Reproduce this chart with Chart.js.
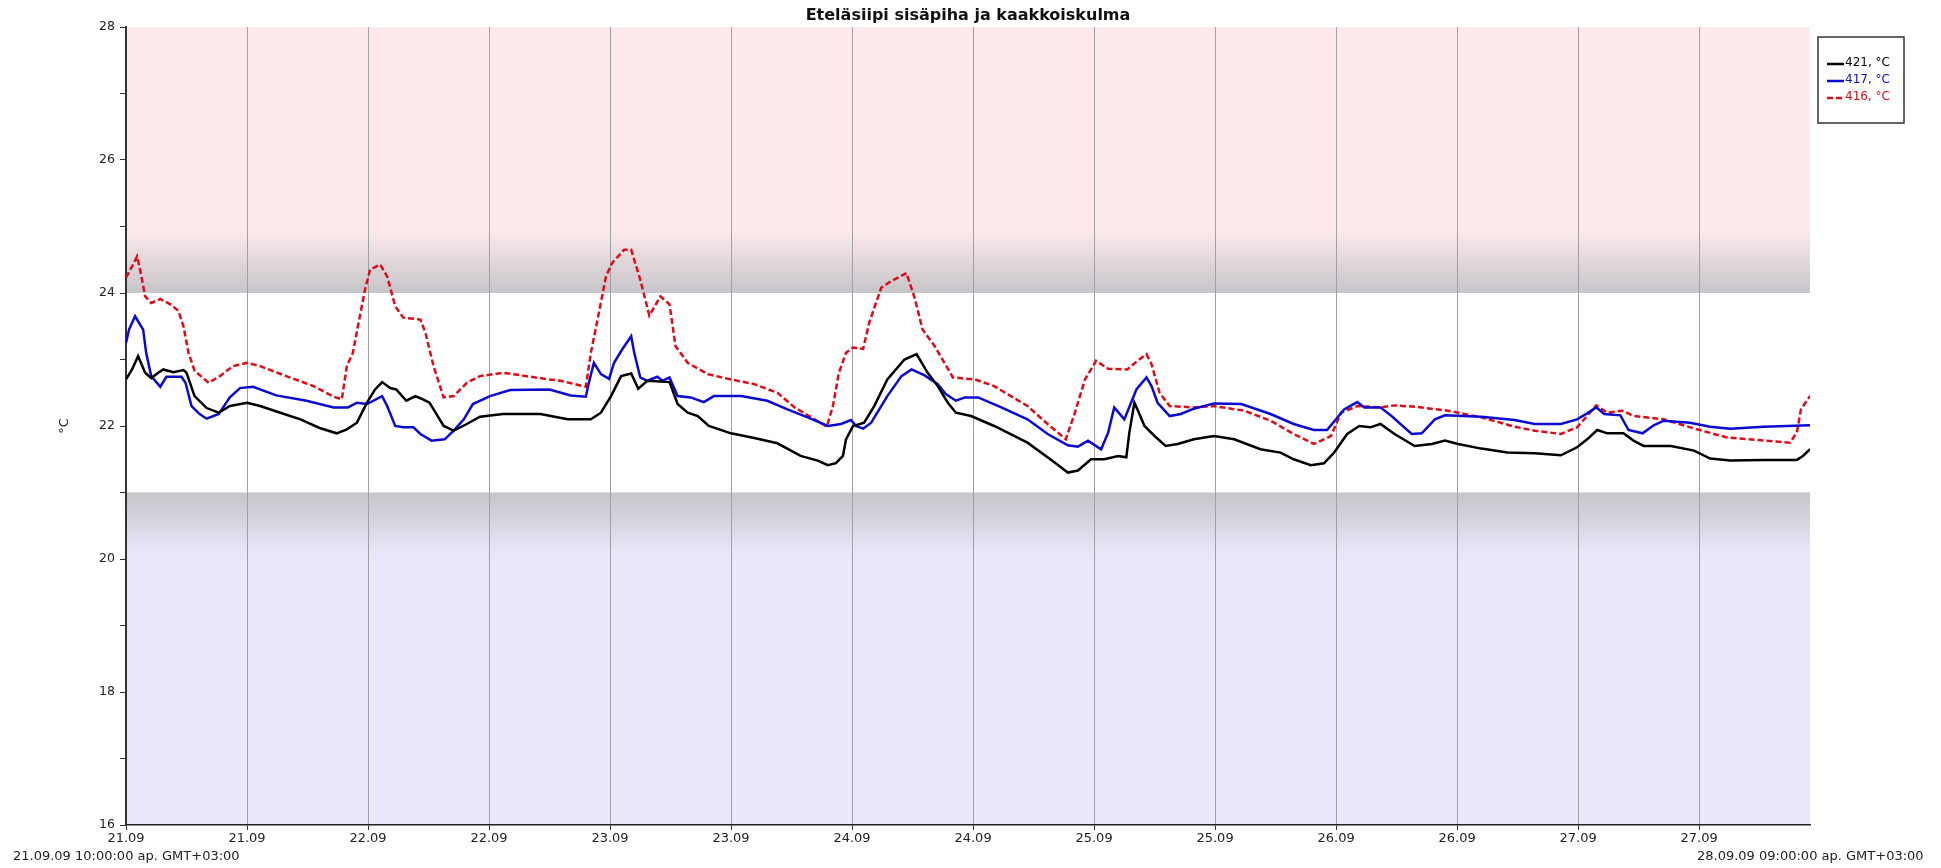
<!DOCTYPE html>
<html>
<head>
<meta charset="utf-8">
<script src="https://cdn.jsdelivr.net/npm/chart.js@4.4.1/dist/chart.umd.min.js"></script>
<style>
    html, body { margin: 0; padding: 0; background: #fff; }
    canvas { display: block; }
</style>
</head>
<body>
<canvas id="tempChart" width="1941" height="868"></canvas>
<script>
const chartTitle = 'Eteläsiipi sisäpiha ja kaakkoiskulma';
const startLabel = '21.09.09 10:00:00 ap. GMT+03:00';
const endLabel = '28.09.09 09:00:00 ap. GMT+03:00';
const yTitle = '°C';

// hours from 21.09 10:00
const xTickHours = [0, 12, 24, 36, 48, 60, 72, 84, 96, 108, 120, 132, 144, 156];
const xTickLabels = ['21.09', '21.09', '22.09', '22.09', '23.09', '23.09', '24.09', '24.09',
    '25.09', '25.09', '26.09', '26.09', '27.09', '27.09'];
const comfortRange = [21, 24];

const hours421 = [0, 0.6, 1.2, 1.9, 2.5, 3.2, 3.7, 4.7, 5.7, 6.0, 6.8, 8, 9.2, 10.3, 12, 13.3, 15.3, 17.3, 19.2, 20.9,
    21.9, 22.9, 23.9, 24.7, 25.4, 26.2, 26.8, 27.8, 28.7, 29.3, 30.1, 31.5, 32.5, 33.8, 35.1, 37.4, 41.1, 43.8, 46.1, 47.1,
    48.1, 49.1, 50.1, 50.8, 51.7, 53.9, 54.7, 55.7, 56.7, 57.8, 60, 62.3, 64.6, 66.9, 68.6, 69.6, 70.4, 71.1, 71.4, 72.1,
    73.2, 74.2, 75.5, 77.2, 78.4, 79.5, 80.5, 81.5, 82.3, 83.8, 86.1, 89.4, 92.1, 93.4, 94.4, 95.7, 97, 98.4, 99.2, 99.5,
    100, 100.3, 101, 102, 103.1, 104.3, 105.9, 107.9, 109.9, 112.5, 114.5, 115.8, 117.5, 118.8, 119.8, 121.1, 122.3, 123.4, 124.4, 125.8,
    127.8, 129.5, 130.8, 132.1, 134.4, 137, 139.7, 142.3, 143.9, 144.9, 145.9, 146.9, 148.5, 149.5, 150.5, 153.2, 155.5, 157.1, 159.1, 162.4,
    165.7, 166.3, 167];
const temps421 = [22.7, 22.85, 23.05, 22.8, 22.72, 22.8, 22.85, 22.81, 22.84, 22.8, 22.45, 22.27, 22.2, 22.3, 22.35, 22.3, 22.2, 22.1, 21.97, 21.89,
    21.95, 22.05, 22.35, 22.55, 22.66, 22.57, 22.55, 22.38, 22.45, 22.41, 22.35, 22.0, 21.93, 22.03, 22.14, 22.18, 22.18, 22.1, 22.1, 22.2,
    22.45, 22.75, 22.79, 22.56, 22.68, 22.66, 22.33, 22.2, 22.15, 22.0, 21.89, 21.82, 21.74, 21.55, 21.48, 21.41, 21.44, 21.55, 21.8, 22.0,
    22.05, 22.3, 22.7, 23.0, 23.08, 22.8, 22.6, 22.35, 22.2, 22.15, 22.0, 21.75, 21.45, 21.3, 21.33, 21.5, 21.5, 21.55, 21.53, 21.9,
    22.35, 22.25, 22.0, 21.85, 21.7, 21.73, 21.8, 21.85, 21.8, 21.65, 21.6, 21.5, 21.41, 21.44, 21.6, 21.88, 22.0, 21.98, 22.03, 21.88,
    21.7, 21.73, 21.78, 21.73, 21.66, 21.6, 21.59, 21.56, 21.68, 21.8, 21.94, 21.89, 21.89, 21.78, 21.7, 21.7, 21.63, 21.51, 21.48, 21.49,
    21.49, 21.55, 21.65];

const hours417 = [0, 0.3, 0.9, 1.7, 2.0, 2.5, 3.4, 4, 5.5, 5.9, 6.5, 7.3, 8, 9.2, 10.3, 11.3, 12.6, 14.9, 17.9, 20.6,
    22, 22.9, 23.9, 25.4, 25.9, 26.7, 27.5, 28.5, 29.2, 30.3, 31.6, 32.5, 33.5, 34.4, 36.1, 38.1, 42, 44.1, 45.6, 45.9,
    46.4, 47.1, 47.9, 48.4, 49.2, 50.1, 50.4, 51, 51.7, 52.7, 53.2, 53.9, 54.7, 56, 57.3, 58.3, 61, 63.6, 65.6, 67.6,
    69.6, 70.9, 71.9, 72.4, 73.1, 73.9, 75.5, 76.9, 77.9, 79.2, 80.5, 81.3, 82.3, 83.2, 84.5, 86.8, 89.4, 91.4, 93.4, 94.4,
    95.4, 96.7, 97.4, 98, 99, 100.2, 101.2, 101.7, 102.3, 103.5, 104.6, 105.9, 107.9, 110.6, 113.5, 115.8, 117.8, 119.1, 120.8, 122.1,
    122.8, 124.4, 125.5, 127.5, 128.5, 129.8, 130.8, 134.4, 137.7, 139.7, 142.3, 143.9, 144.9, 145.8, 146.6, 148.2, 149, 150.4, 151.5, 152.5,
    155.1, 157.1, 159.1, 162.4, 167];
const temps417 = [23.25, 23.45, 23.65, 23.45, 23.1, 22.75, 22.59, 22.74, 22.74, 22.65, 22.3, 22.18, 22.11, 22.18, 22.43, 22.57, 22.59, 22.46, 22.38, 22.28,
    22.28, 22.35, 22.33, 22.45, 22.3, 22.0, 21.98, 21.98, 21.88, 21.78, 21.8, 21.93, 22.1, 22.33, 22.45, 22.54, 22.55, 22.46, 22.44, 22.65,
    22.95, 22.78, 22.71, 22.95, 23.15, 23.35, 23.1, 22.73, 22.68, 22.74, 22.68, 22.73, 22.45, 22.43, 22.36, 22.45, 22.45, 22.38, 22.25, 22.13,
    22.0, 22.03, 22.09, 22.0, 21.96, 22.05, 22.45, 22.75, 22.85, 22.76, 22.63, 22.48, 22.38, 22.43, 22.43, 22.28, 22.1, 21.88, 21.71, 21.69,
    21.78, 21.65, 21.9, 22.28, 22.1, 22.55, 22.73, 22.6, 22.35, 22.15, 22.18, 22.26, 22.34, 22.33, 22.18, 22.03, 21.94, 21.94, 22.25, 22.36,
    22.28, 22.28, 22.15, 21.88, 21.89, 22.1, 22.16, 22.14, 22.09, 22.03, 22.03, 22.1, 22.19, 22.28, 22.18, 22.16, 21.94, 21.89, 22.01, 22.08,
    22.05, 21.99, 21.96, 21.99, 22.01];

const hours416 = [0, 0.6, 1.1, 1.4, 1.9, 2.5, 3.4, 4.4, 5.2, 5.7, 6.2, 6.8, 8.2, 9.3, 10.6, 12, 13.3, 15.9, 18.6, 20.6,
    21.4, 21.9, 22.5, 23, 23.7, 24.2, 25.2, 25.9, 26.7, 27.5, 29.2, 29.7, 30.5, 31.5, 32.5, 33.8, 35.1, 37.4, 42, 43.1,
    45.6, 46.1, 46.7, 47.6, 48.2, 49.4, 50.1, 51, 51.9, 53, 53.9, 54.5, 55.7, 57.7, 60, 62.3, 64.6, 66.3, 68.3, 69.5,
    70.1, 70.7, 71.4, 72.1, 73.1, 73.7, 74.9, 75.9, 77.4, 78.2, 79, 80.2, 82, 84.2, 86.1, 89.4, 91.4, 93.2, 94.1, 95.1,
    96.2, 97.4, 99.3, 100.3, 101.2, 101.7, 102.5, 103.5, 105.9, 107.9, 110.9, 113.5, 115.8, 117.8, 119.5, 120.5, 122.1, 124.4, 125.8, 127.8,
    131.1, 134.4, 137.7, 139.7, 142.3, 143.9, 144.9, 145.8, 146.9, 148.4, 149.5, 152.5, 155.8, 158.7, 162.4, 165, 165.7, 166.1, 167];
const temps416 = [24.23, 24.4, 24.55, 24.35, 23.95, 23.85, 23.91, 23.83, 23.73, 23.5, 23.1, 22.83, 22.65, 22.75, 22.9, 22.95, 22.9, 22.75, 22.6, 22.44,
    22.4, 22.9, 23.1, 23.5, 24.05, 24.35, 24.43, 24.25, 23.8, 23.63, 23.6, 23.4, 22.9, 22.43, 22.45, 22.65, 22.75, 22.8, 22.7, 22.68,
    22.59, 23.1, 23.55, 24.25, 24.45, 24.65, 24.65, 24.2, 23.66, 23.95, 23.83, 23.2, 22.95, 22.78, 22.7, 22.63, 22.5, 22.28, 22.1, 21.99,
    22.3, 22.8, 23.1, 23.18, 23.16, 23.55, 24.08, 24.18, 24.3, 23.93, 23.45, 23.2, 22.73, 22.7, 22.6, 22.3, 22.03, 21.8, 22.2, 22.7,
    22.98, 22.86, 22.85, 22.98, 23.08, 22.93, 22.5, 22.3, 22.28, 22.3, 22.23, 22.08, 21.88, 21.73, 21.85, 22.2, 22.3, 22.28, 22.31, 22.29,
    22.23, 22.13, 21.99, 21.93, 21.88, 21.98, 22.15, 22.31, 22.2, 22.23, 22.15, 22.1, 21.95, 21.83, 21.78, 21.75, 21.9, 22.25, 22.45];

const toPoints = (xs, ys) => xs.map((x, i) => ({ x: x, y: ys[i] }));

const FONT = '"DejaVu Sans", Verdana, sans-serif';

// coloured limit bands behind the lines
const bandsPlugin = {
    id: 'bands',
    beforeDraw(chart) {
        const { ctx, chartArea: a, scales: { y } } = chart;
        const w = a.right - a.left;
        const pink = 'rgb(253,233,235)';
        const lav = 'rgb(232,232,250)';
        const gray = 'rgb(198,197,202)';
        const yMax = y.getPixelForValue(y.max);
        const yHigh = y.getPixelForValue(comfortRange[1]);
        const yLow = y.getPixelForValue(comfortRange[0]);
        const yMin = y.getPixelForValue(y.min);
        ctx.save();
        ctx.fillStyle = pink;
        ctx.fillRect(a.left, yMax, w, yHigh - yMax);
        const fadeTop = y.getPixelForValue(comfortRange[1] + 0.95);
        let g = ctx.createLinearGradient(0, fadeTop, 0, yHigh);
        g.addColorStop(0, pink);
        g.addColorStop(1, gray);
        ctx.fillStyle = g;
        ctx.fillRect(a.left, fadeTop, w, yHigh - fadeTop);

        ctx.fillStyle = lav;
        ctx.fillRect(a.left, yLow, w, yMin - yLow);
        const fadeBottom = y.getPixelForValue(comfortRange[0] - 0.95);
        g = ctx.createLinearGradient(0, yLow, 0, fadeBottom);
        g.addColorStop(0, gray);
        g.addColorStop(1, lav);
        ctx.fillStyle = g;
        ctx.fillRect(a.left, yLow, w, fadeBottom - yLow);
        ctx.restore();
    }
};

// title, y title, start/end stamps and boxed legend
const textPlugin = {
    id: 'texts',
    afterDraw(chart) {
        const { ctx, chartArea: a } = chart;
        ctx.save();
        ctx.fillStyle = '#111';
        ctx.font = 'bold 16px ' + FONT;
        ctx.textAlign = 'center';
        ctx.textBaseline = 'middle';
        ctx.fillText(chartTitle, (a.left + a.right) / 2, 16);

        ctx.font = '13px ' + FONT;
        ctx.fillStyle = '#222';
        ctx.save();
        ctx.translate(65, (a.top + a.bottom) / 2);
        ctx.rotate(-Math.PI / 2);
        ctx.fillText(yTitle, 0, 0);
        ctx.restore();

        ctx.textAlign = 'left';
        ctx.fillText(startLabel, 13, 857);
        ctx.fillText(endLabel, 1697, 857);

        // legend
        const bx = 1818, by = 37, bw = 86, bh = 86;
        ctx.fillStyle = '#fff';
        ctx.fillRect(bx, by, bw, bh);
        ctx.strokeStyle = '#333';
        ctx.lineWidth = 1.5;
        ctx.strokeRect(bx, by, bw, bh);
        ctx.font = '12px ' + FONT;
        chart.data.datasets.forEach((ds, i) => {
            const ly = 63 + i * 17;
            ctx.strokeStyle = ds.borderColor;
            ctx.lineWidth = 2.5;
            ctx.setLineDash(ds.borderDash || []);
            ctx.beginPath();
            ctx.moveTo(1827, ly + 1);
            ctx.lineTo(1844, ly + 1);
            ctx.stroke();
            ctx.setLineDash([]);
            ctx.fillStyle = ds.borderColor;
            ctx.fillText(ds.label, 1845, ly);
        });
        ctx.restore();
    }
};

const ctx = document.getElementById('tempChart').getContext('2d');

const tempChart = new Chart(ctx, {
    type: 'line',
    data: {
        datasets: [{
            label: '421, °C',
            data: toPoints(hours421, temps421),
            borderColor: 'rgb(0,0,0)',
            borderWidth: 2.5,
        },
        {
            label: '417, °C',
            data: toPoints(hours417, temps417),
            borderColor: 'rgb(10,10,210)',
            borderWidth: 2.5,
        },
        {
            label: '416, °C',
            data: toPoints(hours416, temps416),
            borderColor: 'rgb(225,10,20)',
            borderWidth: 2.5,
            borderDash: [6, 3],
        }]
    },
    options: {
        responsive: false,
        animation: false,
        elements: {
            point: { radius: 0 },
            line: { tension: 0, fill: false }
        },
        layout: {
            padding: { left: 0, right: 131, top: 27, bottom: 0 }
        },
        plugins: {
            legend: { display: false },
            title: { display: false },
            tooltip: { enabled: false }
        },
        scales: {
            x: {
                type: 'linear',
                min: 0,
                max: 167,
                afterBuildTicks: (scale) => {
                    scale.ticks = xTickHours.map(v => ({ value: v }));
                },
                afterFit: (scale) => { scale.height = 43; },
                grid: {
                    color: 'rgb(160,160,165)',
                    lineWidth: 1,
                    tickLength: 5,
                    tickColor: '#333',
                },
                border: { color: '#222', width: 1.5 },
                ticks: {
                    autoSkip: false,
                    maxRotation: 0,
                    padding: 1,
                    color: '#222',
                    font: { family: FONT, size: 13 },
                    callback: function (value, index) {
                        return xTickLabels[index];
                    }
                }
            },
            y: {
                min: 16,
                max: 28,
                afterFit: (scale) => { scale.width = 126; },
                grid: {
                    drawOnChartArea: false,
                    tickLength: 6,
                    color: '#333',
                },
                border: { color: '#333', width: 2 },
                ticks: {
                    stepSize: 1,
                    padding: 5,
                    color: '#222',
                    font: { family: FONT, size: 12.5 },
                    callback: (value) => value % 2 === 0 ? value : ''
                }
            }
        }
    },
    plugins: [bandsPlugin, textPlugin]
});
</script>
</body>
</html>
